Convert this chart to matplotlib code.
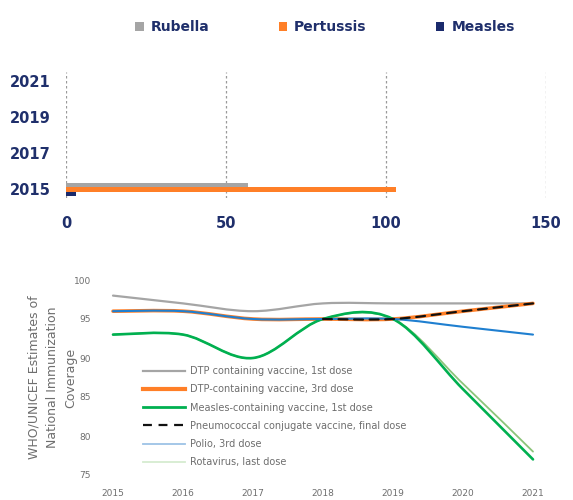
import numpy as np
import matplotlib
matplotlib.use("Agg")
import matplotlib.pyplot as plt
from matplotlib.path import Path
from matplotlib.patches import PathPatch
from matplotlib.lines import Line2D

# ---------------- data: top bar chart ----------------
bar_years = [2015, 2016, 2017, 2018, 2019, 2020, 2021]
bar_tick_labels = ["2015", "2017", "2019", "2021"]
rubella = [57, 0, 0, 0, 0, 0, 0]
pertussis = [103, 0, 0, 0, 0, 0, 0]
measles_cases = [3, 0, 0, 0, 0, 0, 0]
bar_xticks = [0, 50, 100, 150]

# ---------------- data: bottom line chart ----------------
years = [2015, 2016, 2017, 2018, 2019, 2020, 2021]
dtp1 = [98, 97, 96, 97, 97, 97, 97]
dtp3 = [96, 96, 95, 95, 95, 96, 97]
mcv1 = [93, 93, 90, 95, 95, 86, 77]
pcv = [np.nan, np.nan, np.nan, 95, 95, 96, 97]
polio3 = [96, 96, 95, 95, 95, 94, 93]
rota = [93, 93, 90, 95, 95, 86.7, 78]
line_labels = ["DTP containing vaccine, 1st dose",
               "DTP-containing vaccine, 3rd dose",
               "Measles-containing vaccine, 1st dose",
               "Pneumococcal conjugate vaccine, final dose",
               "Polio, 3rd dose",
               "Rotavirus, last dose"]

NAVY = "#1F2F6B"
GRAYTXT = "#6E6E6E"

fig = plt.figure(figsize=(5.73, 5.0), dpi=100)

# ================= top chart =================
axt = fig.add_axes([66/573, 1-198/500, 480/573, 126/500])
idx = np.arange(len(bar_years))
h = 0.27
b1 = axt.barh(idx + 0.22, rubella, height=h, color="#A5A5A5", label="Rubella", zorder=3)
b2 = axt.barh(idx - 0.03, pertussis, height=h, color="#FF7F27", label="Pertussis", zorder=3)
b3 = axt.barh(idx - 0.28, measles_cases, height=h, color="#1A2A6C", label="Measles", zorder=3)
axt.set_ylim(-0.5, len(bar_years) - 0.5)
axt.set_xlim(0, 150)
axt.set_yticks([bar_years.index(int(t)) for t in bar_tick_labels])
axt.set_yticklabels(bar_tick_labels)
axt.set_xticks(bar_xticks)
axt.set_xticklabels([str(v) for v in bar_xticks])
for s in axt.spines.values():
    s.set_visible(False)
axt.tick_params(length=0, colors=NAVY, labelsize=10.5)
axt.tick_params(axis="x", pad=13)
axt.tick_params(axis="y", pad=11)
for lab in axt.get_xticklabels() + axt.get_yticklabels():
    lab.set_fontweight("bold")
axt.xaxis.grid(True, linestyle=(0, (2, 2)), color="#9A9A9A", linewidth=0.9, zorder=0)
axt.set_axisbelow(True)

fig.legend(handles=[b1, b2, b3], labels=["Rubella", "Pertussis", "Measles"],
           loc="center", bbox_to_anchor=(325/573, 1-27/500), ncol=3, frameon=False,
           handlelength=0.6, handleheight=0.6, handletextpad=0.5, columnspacing=5.0,
           prop={"size": 10, "weight": "bold"}, labelcolor=NAVY)

# ================= bottom chart =================
axb = fig.add_axes([106/573, 1-475/500, 434/573, 195/500])
axb.set_xlim(2014.9, 2021.1)
axb.set_ylim(75, 100)


def smooth_path(x, y):
    x = np.asarray(x, float)
    y = np.asarray(y, float)
    ok = ~np.isnan(y)
    x, y = x[ok], y[ok]
    pts = np.column_stack([x, y])
    n = len(pts)
    verts = [pts[0]]
    codes = [Path.MOVETO]
    for i in range(n - 1):
        p0 = pts[i - 1] if i > 0 else pts[i]
        p1 = pts[i]
        p2 = pts[i + 1]
        p3 = pts[i + 2] if i + 2 < n else pts[i + 1]
        c1 = p1 + (p2 - p0) / 6.0
        c2 = p2 - (p3 - p1) / 6.0
        verts += [c1, c2, p2]
        codes += [Path.CURVE4] * 3
    return Path(verts, codes)


series = [
    (dtp1, dict(color="#A5A5A5", lw=1.6, ls="-"), 2),
    (dtp3, dict(color="#FF7F27", lw=2.6, ls="-"), 3),
    (mcv1, dict(color="#00B050", lw=1.9, ls="-"), 4),
    (pcv, dict(color="#111111", lw=1.6, ls=(0, (4, 3))), 6),
    (polio3, dict(color="#1F7FD0", lw=1.5, ls="-"), 5),
    (rota, dict(color="#8CC47A", lw=1.3, ls="-"), 3.5),
]
for data, st, z in series:
    patch = PathPatch(smooth_path(years, data), fill=False, edgecolor=st["color"],
                      linewidth=st["lw"], linestyle=st["ls"], zorder=z,
                      capstyle="round", joinstyle="round")
    axb.add_patch(patch)

legend_styles = [
    dict(color="#A5A5A5", lw=1.6, ls="-"),
    dict(color="#FF7F27", lw=3.0, ls="-"),
    dict(color="#00B050", lw=2.0, ls="-"),
    dict(color="#111111", lw=1.6, ls=(0, (4, 3))),
    dict(color="#9DC3E6", lw=1.3, ls="-"),
    dict(color="#D5ECD0", lw=1.3, ls="-"),
]
handles = [Line2D([], [], color=s["color"], lw=s["lw"], ls=s["ls"]) for s in legend_styles]
axb.legend(handles, line_labels, loc="upper left", bbox_to_anchor=(143/573, 1-366/500),
           bbox_transform=fig.transFigure, frameon=False, fontsize=7, labelcolor=GRAYTXT,
           handlelength=4.3, handletextpad=0.5, labelspacing=0.85, borderpad=0,
           borderaxespad=0)

axb.set_xticks(years)
axb.set_xticklabels([str(y) for y in years])
axb.set_yticks([75, 80, 85, 90, 95, 100])
for s in axb.spines.values():
    s.set_visible(False)
axb.tick_params(length=0, colors=GRAYTXT, labelsize=6.5)
axb.tick_params(axis="x", pad=10)
axb.tick_params(axis="y", pad=11)
axb.set_ylabel("WHO/UNICEF Estimates of\nNational Immunization\nCoverage",
               color=GRAYTXT, fontsize=9, linespacing=1.55, labelpad=-3)

fig.savefig("out.png", dpi=100, facecolor="white")
